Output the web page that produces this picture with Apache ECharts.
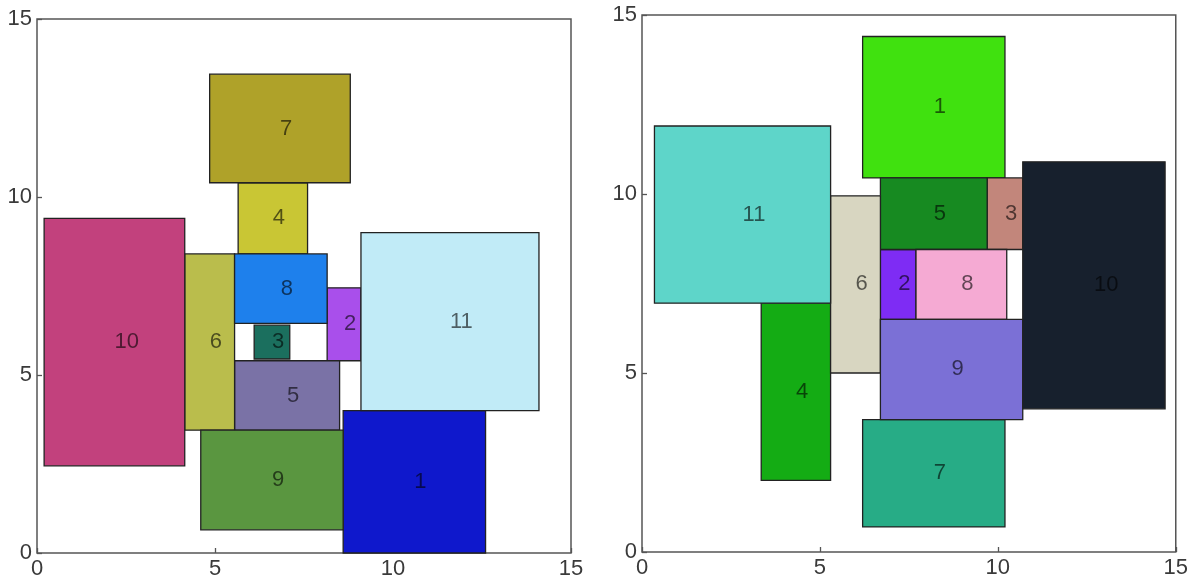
<!DOCTYPE html>
<html>
<head>
<meta charset="utf-8">
<script src="https://cdn.jsdelivr.net/npm/echarts@6/dist/echarts.min.js"></script>
<style>
html,body{margin:0;padding:0;background:#fff;}
#chart{width:1191px;height:581px;}
</style>
</head>
<body>
<div id="chart"></div>
<script>
// Left panel rectangles
const leftLabels = ['1','2','3','4','5','6','7','8','9','10','11'];
const leftX0 = [8.6, 8.15, 6.1, 5.65, 5.55, 4.15, 4.85, 5.55, 4.6, 0.2, 9.1];
const leftX1 = [12.6, 9.1, 7.1, 7.6, 8.5, 5.55, 8.8, 8.15, 8.6, 4.15, 14.1];
const leftY0 = [0.0, 5.4, 5.45, 8.4, 3.45, 3.45, 10.4, 6.45, 0.65, 2.45, 4.0];
const leftY1 = [4.0, 7.45, 6.4, 10.4, 5.4, 8.4, 13.45, 8.4, 3.45, 9.4, 9.0];

// Right panel rectangles
const rightLabels = ['1','2','3','4','5','6','7','8','9','10','11'];
const rightX0 = [6.2, 6.7, 9.7, 3.35, 6.7, 5.3, 6.2, 7.7, 6.7, 10.7, 0.35];
const rightX1 = [10.2, 7.7, 10.7, 5.3, 9.7, 6.7, 10.2, 10.25, 10.7, 14.7, 5.3];
const rightY0 = [10.45, 6.5, 8.45, 2.0, 8.45, 5.0, 0.7, 6.5, 3.7, 4.0, 6.95];
const rightY1 = [14.4, 8.45, 10.45, 6.95, 10.45, 9.95, 3.7, 8.45, 6.5, 10.9, 11.9];

// Axis
const axisMin = 0, axisMax = 15, axisStep = 5;

// Colours (style)
const leftColors = ['#0F18CC','#A94FEB','#1B6F5E','#C9C634','#7A72A6','#BABD4C','#AFA229','#1E80EC','#5A9640','#C2417D','#C1EBF7'];
const rightColors = ['#40E10F','#7E2CF4','#C2867B','#14AC14','#178A21','#D8D6C1','#27AC86','#F5AAD3','#7B70D6','#17202D','#5ED5C9'];

const FONT = '"Liberation Sans Narrow", "Liberation Sans", Arial, sans-serif';

function rectSeries(idx, labels, x0, x1, y0, y1, colors) {
  return {
    type: 'custom',
    xAxisIndex: idx,
    yAxisIndex: idx,
    data: labels.map((l, i) => [x0[i], x1[i], y0[i], y1[i]]),
    encode: { x: [0, 1], y: [2, 3] },
    renderItem: function (params, api) {
      const i = params.dataIndex;
      const p0 = api.coord([api.value(0), api.value(3)]);
      const p1 = api.coord([api.value(1), api.value(2)]);
      return {
        type: 'group',
        children: [
          {
            type: 'rect',
            shape: { x: p0[0], y: p0[1], width: p1[0] - p0[0], height: p1[1] - p0[1] },
            style: { fill: colors[i], stroke: '#222', lineWidth: 1.3 }
          },
          {
            type: 'text',
            x: (p0[0] + p1[0]) / 2,
            y: (p0[1] + p1[1]) / 2,
            style: {
              text: labels[i],
              fill: 'rgba(0,0,0,0.6)',
              font: '22px ' + FONT,
              align: 'left',
              verticalAlign: 'middle'
            }
          }
        ]
      };
    }
  };
}

function valueAxis(idx, isX) {
  return {
    type: 'value',
    gridIndex: idx,
    min: axisMin,
    max: axisMax,
    interval: axisStep,
    splitLine: { show: false },
    axisLine: { show: false },
    axisTick: { show: true, inside: true, length: 5, lineStyle: { color: '#555', width: 1.3 } },
    axisLabel: {
      color: '#3a3a3a',
      fontSize: 22,
      fontFamily: FONT,
      margin: isX ? 5 : 5
    }
  };
}

const chart = echarts.init(document.getElementById('chart'), null, { renderer: 'canvas' });
chart.setOption({
  animation: false,
  backgroundColor: '#fff',
  grid: [
    { left: 37, top: 19, width: 534, height: 534, show: true, borderColor: '#555', borderWidth: 1.5, backgroundColor: 'transparent' },
    { left: 642, top: 15, width: 538, height: 537, show: true, borderColor: '#555', borderWidth: 1.5, backgroundColor: 'transparent' }
  ],
  xAxis: [valueAxis(0, true), valueAxis(1, true)],
  yAxis: [valueAxis(0, false), valueAxis(1, false)],
  series: [
    rectSeries(0, leftLabels, leftX0, leftX1, leftY0, leftY1, leftColors),
    rectSeries(1, rightLabels, rightX0, rightX1, rightY0, rightY1, rightColors)
  ]
});
</script>
</body>
</html>
